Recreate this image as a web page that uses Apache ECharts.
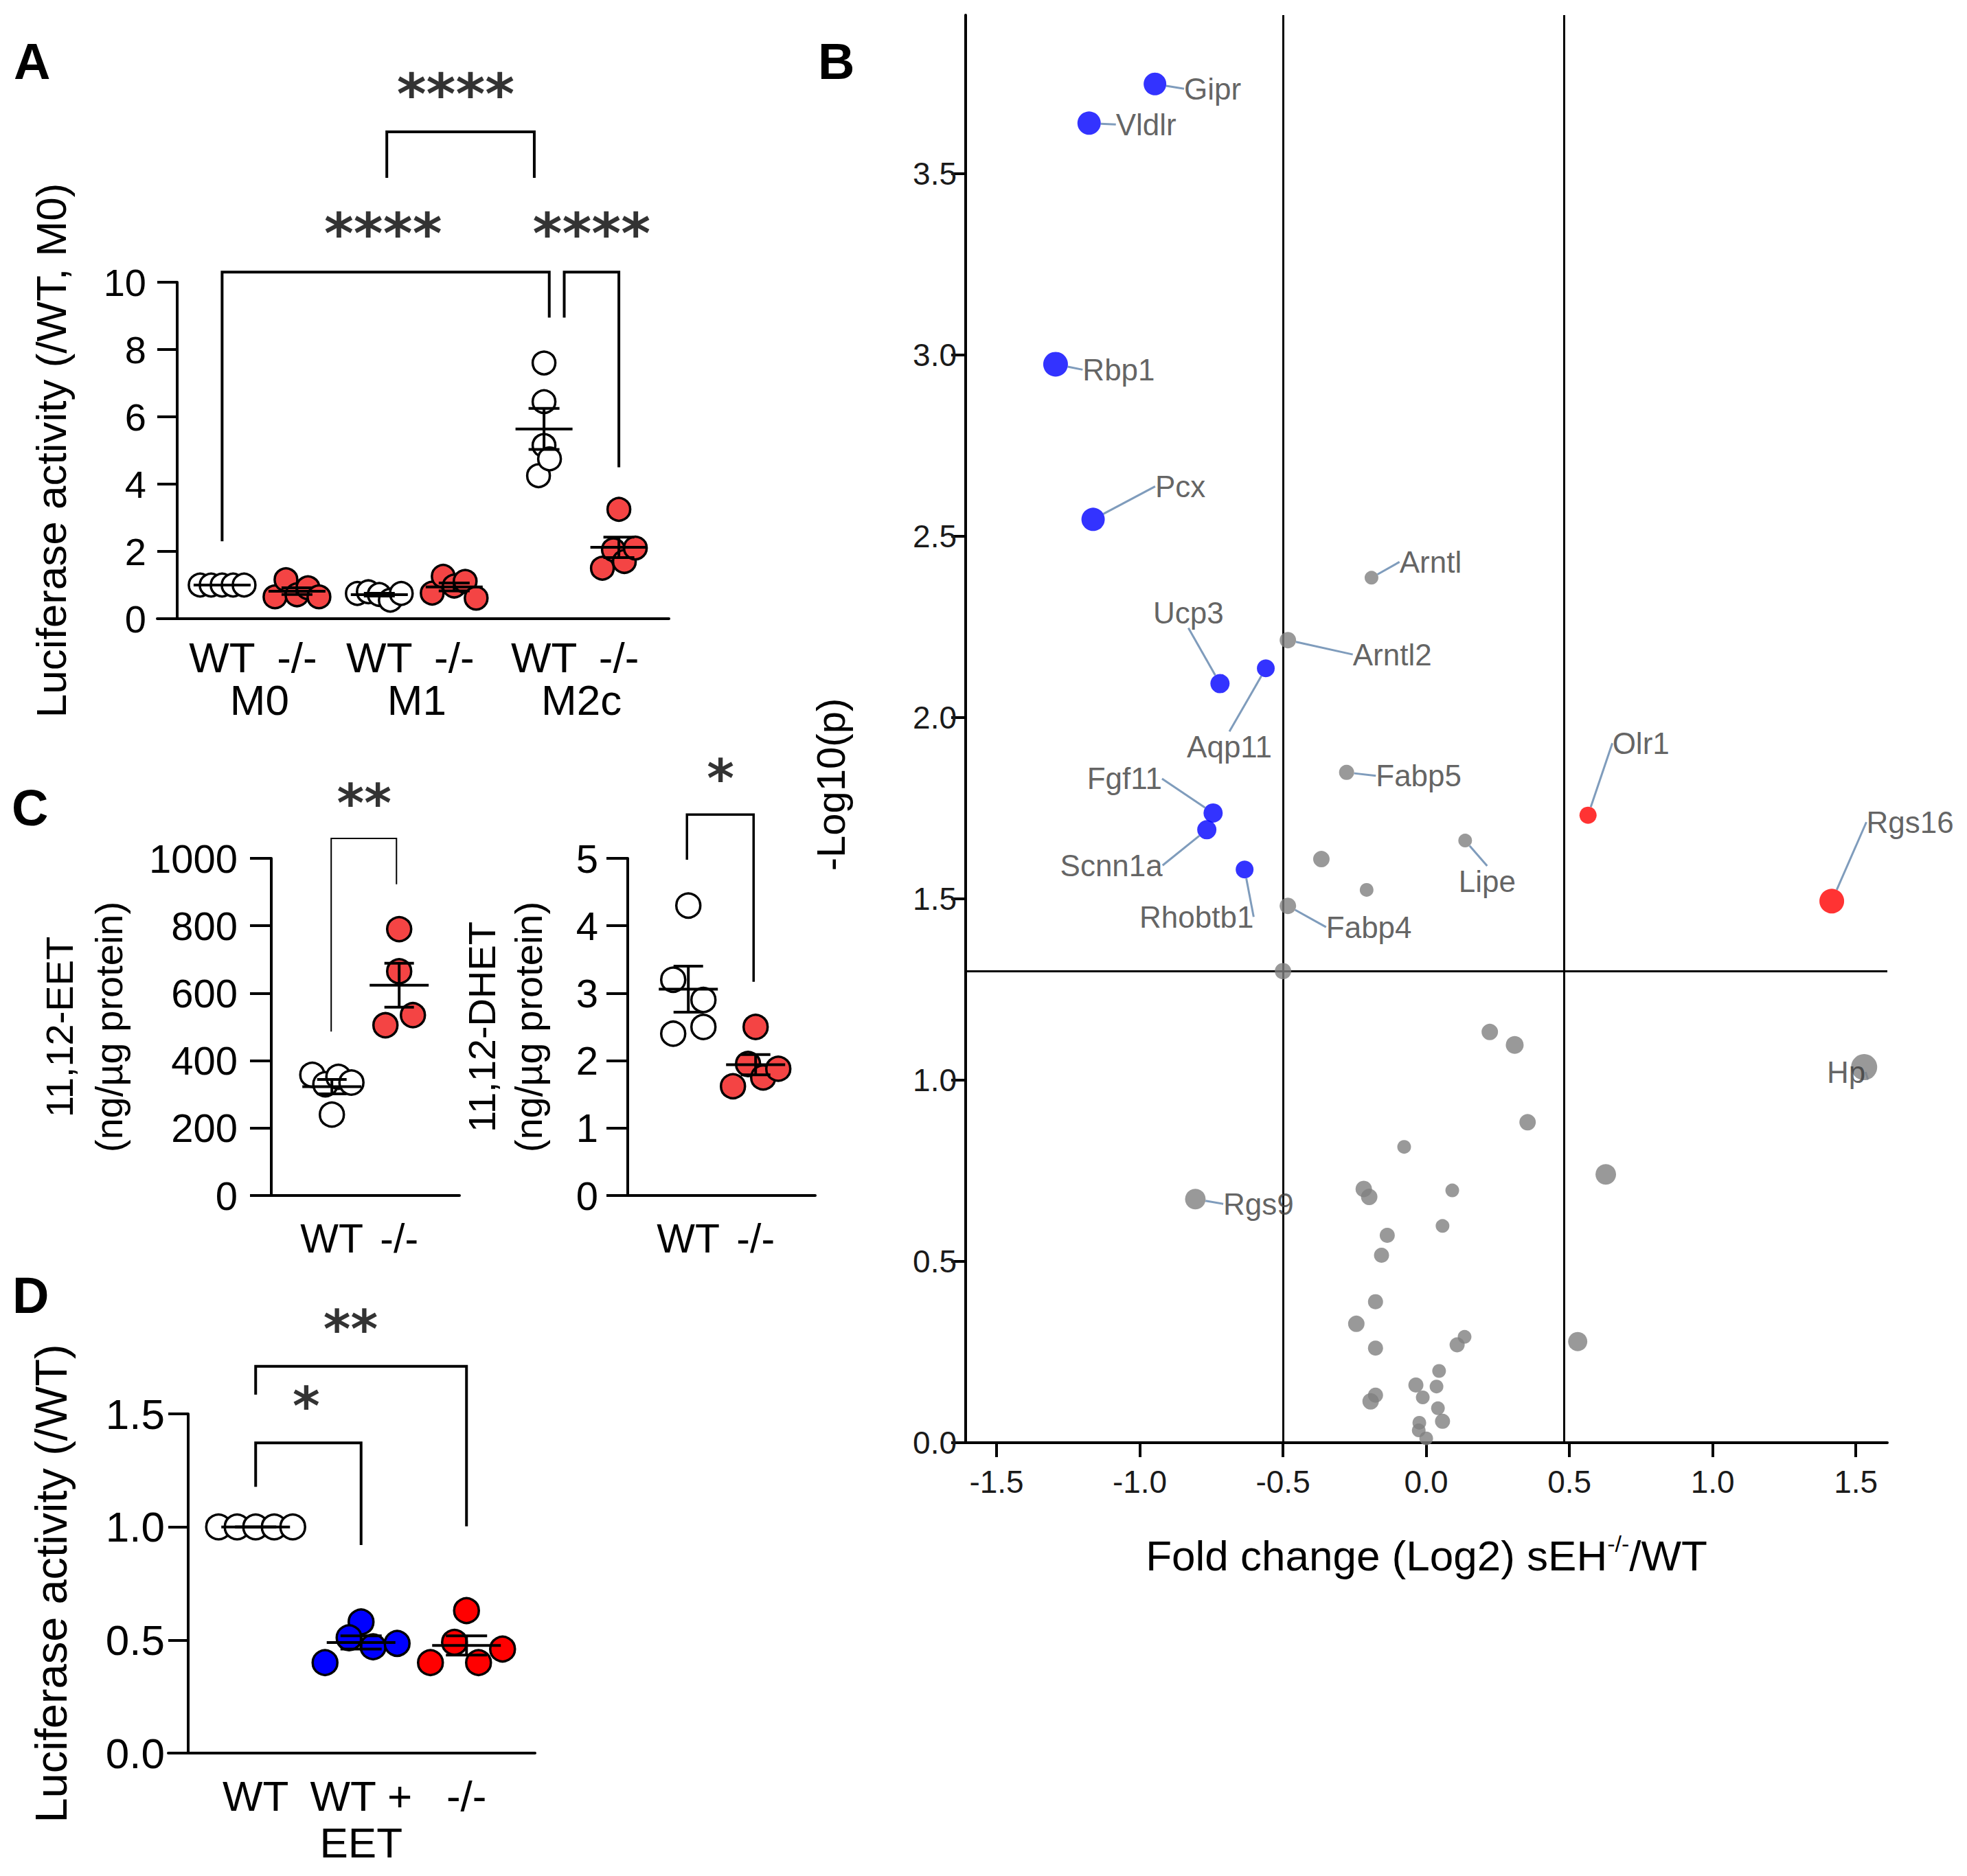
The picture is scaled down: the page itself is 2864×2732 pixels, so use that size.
<!DOCTYPE html>
<html><head><meta charset="utf-8">
<script src="https://cdn.jsdelivr.net/npm/echarts@6/dist/echarts.min.js"></script>
<style>html,body{margin:0;padding:0;background:#fff}#c{width:2864px;height:2732px}</style>
</head><body><div id="c"></div>
<script>
// ================= DATA =================
// ---- Panel A : Luciferase activity (/WT, M0)   (values listed left-to-right as plotted)
const aGroupLabels = ['WT', '-/-', 'WT', '-/-', 'WT', '-/-'];
const aConditionLabels = ['M0', 'M1', 'M2c'];
const aWT_M0  = [1.0, 1.0, 1.0, 1.0, 1.0];
const aKO_M0  = [0.65, 1.16, 0.71, 0.92, 0.65];
const aWT_M1  = [0.75, 0.8, 0.72, 0.55, 0.75];
const aKO_M1  = [0.76, 1.26, 0.97, 1.11, 0.61];
const aWT_M2c = [7.6, 6.45, 5.15, 4.25, 4.75];
const aKO_M2c = [3.25, 1.5, 2.05, 1.7, 2.1];
const aYTicks = [0, 2, 4, 6, 8, 10];

// ---- Panel B : volcano plot
const bGenes = ['Gipr','Vldlr','Rbp1','Pcx','Ucp3','Aqp11','Fgf11','Scnn1a','Rhobtb1','Arntl','Arntl2','Fabp5','Lipe','Fabp4','Olr1','Rgs16','Hp','Rgs9',
  '','','','','','','','','','','','','','','','','','','','','','','','','','','','','','',''];
const bFoldChange = [-0.947,-1.177,-1.294,-1.163,-0.72,-0.56,-0.744,-0.766,-0.634,-0.191,-0.483,-0.278,0.136,-0.483,0.565,1.416,1.529,-0.806,
  -0.366,-0.208,-0.5,0.222,0.309,0.354,0.627,-0.077,-0.218,-0.199,0.091,0.057,-0.136,-0.156,-0.177,-0.244,-0.177,0.134,0.108,0.529,0.045,-0.036,0.036,-0.012,-0.177,-0.194,0.041,-0.024,0.057,-0.026,0.0];
const bNegLog10P = [3.748,3.64,2.975,2.547,2.094,2.136,1.737,1.691,1.581,2.386,2.214,1.849,1.661,1.481,1.731,1.494,1.036,0.672,
  1.61,1.525,1.301,1.133,1.097,0.884,0.74,0.816,0.7,0.678,0.696,0.598,0.572,0.517,0.389,0.328,0.261,0.292,0.27,0.279,0.198,0.159,0.155,0.125,0.131,0.114,0.095,0.055,0.059,0.034,0.012];
const bXTicks = [-1.5, -1.0, -0.5, 0.0, 0.5, 1.0, 1.5];
const bYTicks = [0.0, 0.5, 1.0, 1.5, 2.0, 2.5, 3.0, 3.5];
const bFoldThresholds = [-0.5, 0.485];
const bPThreshold = 1.301;

// ---- Panel C : 11,12-EET and 11,12-DHET
const cGroupLabels = ['WT', '-/-'];
const cEET_WT  = [358, 330, 352, 335, 240];
const cEET_KO  = [790, 665, 505, 535];
const cDHET_WT = [4.3, 3.2, 2.9, 2.4, 2.5];
const cDHET_KO = [2.5, 1.62, 1.95, 1.75, 1.88];

// ---- Panel D : Luciferase activity (/WT)
const dGroupLabels = ['WT', 'WT +\nEET', '-/-'];
const dWT     = [1.0, 1.0, 1.0, 1.0, 1.0];
const dWT_EET = [0.58, 0.40, 0.51, 0.47, 0.485];
const dKO     = [0.63, 0.40, 0.49, 0.40, 0.46];

// ================= STYLE / LAYOUT =================
const FONT = "'Liberation Sans', Arial, Helvetica, sans-serif";
const STAR_FONT = "'DejaVu Sans', 'Liberation Sans', sans-serif";
const RED_A = '#f44444', RED_D = '#ff0000', BLUE_D = '#0000ff';
const bDotSize = [33,34,36,34,28,26,28,28,26,20,24,22,20,24,25,36,38,30,
  24,20,24,24,26,24,30,20,24,24,20,20,22,22,22,24,22,20,22,28,20,22,20,20,22,24,20,20,22,20,20];
const bLabelOffset = {Gipr:[84,7],Vldlr:[83,2],Rbp1:[92,8],Pcx:[127,-48],Ucp3:[-46,-103],Aqp11:[-53,114],
  Fgf11:[-129,-50],Scnn1a:[-139,52],Rhobtb1:[-70,69],Arntl:[86,-23],Arntl2:[152,21],Fabp5:[105,5],
  Lipe:[32,59],Fabp4:[118,31],Olr1:[77,-105],Rgs16:[114,-115],Hp:[-26,7],Rgs9:[92,7]};

// grids: off = distance from x-axis start to the y-axis line, pxX = px per x unit
const G = {
  A:  {left:229, top:411, width:745, height:490, off:29, pxX:109,   yMax:10},
  B:  {left:1406, top:22, width:1342, height:2079},
  C1: {left:366, top:1250, width:303, height:491, off:29, pxX:98,   yMax:1000},
  C2: {left:886, top:1250, width:301, height:491, off:28, pxX:98,   yMax:5},
  D:  {left:245, top:2059, width:534, height:494, off:29, pxX:153.5, yMax:1.5}
};
for (const k of ['A','C1','C2','D']) {
  const g = G[k]; g.xMin = -g.off / g.pxX; g.xMax = g.xMin + g.width / g.pxX; g.pxY = g.height / g.yMax;
}
const aPos = [0.6, 1.6, 2.7, 3.7, 4.9, 5.9];
const aCondPos = [1.1, 3.2, 5.4];
const cPos = [0.9, 1.9];
const dPos = [0.64, 1.64, 2.64];

// ================= HELPERS =================
function stats(a) {
  const n = a.length, m = a.reduce((s, v) => s + v, 0) / n;
  const sd = Math.sqrt(a.reduce((s, v) => s + (v - m) * (v - m), 0) / (n - 1));
  return [m, sd / Math.sqrt(n)];
}
// scatter-dot-plot spreading: values within rowH pixels of a row's lowest value share a row,
// points in a row are spread symmetrically, in the order they are listed
function swarm(vals, pos, g, rowH, dx) {
  const idx = vals.map((v, i) => i).sort((a, b) => vals[a] - vals[b]);
  const out = new Array(vals.length);
  let row = [];
  const flush = () => {
    row.sort((a, b) => a - b);
    row.forEach((i, j) => { out[i] = [pos + (j - (row.length - 1) / 2) * dx / g.pxX, vals[i]]; });
    row = [];
  };
  idx.forEach(i => {
    if (row.length && (vals[i] - Math.min(...row.map(r => vals[r]))) * g.pxY >= rowH) flush();
    row.push(i);
  });
  flush();
  return out;
}
function labelAt(positions, labels) {
  return v => { const i = positions.findIndex(p => Math.abs(p - v) < 1e-6); return i >= 0 ? labels[i] : ''; };
}
function dots(xi, yi, vals, pos, g, size, rowH, dx, fill, bw) {
  return {type:'scatter', xAxisIndex:xi, yAxisIndex:yi, z:5, silent:true, clip:false,
    data: swarm(vals, pos, g, rowH, dx), symbol:'circle', symbolSize:size,
    itemStyle:{color:fill, borderColor:'#000', borderWidth:bw, opacity:1}};
}
function meanSem(xi, yi, groups, positions, meanW, capW, lw) {
  return {type:'custom', xAxisIndex:xi, yAxisIndex:yi, z:7, silent:true,
    data: groups.map((a, i) => { const s = stats(a); return [positions[i], s[0], s[1]]; }),
    encode:{x:0, y:1},
    renderItem: (params, api) => {
      const x = api.value(0), m = api.value(1), s = api.value(2);
      const c = api.coord([x, m]), t = api.coord([x, m + s]), b = api.coord([x, m - s]);
      const st = {stroke:'#000', lineWidth:lw, fill:null};
      const ln = (x1, y1, x2, y2) => ({type:'line', shape:{x1, y1, x2, y2}, style:st});
      return {type:'group', children:[
        ln(c[0] - meanW / 2, c[1], c[0] + meanW / 2, c[1]),
        ln(c[0], t[1], c[0], b[1]),
        ln(c[0] - capW / 2, t[1], c[0] + capW / 2, t[1]),
        ln(c[0] - capW / 2, b[1], c[0] + capW / 2, b[1])
      ]};
    }};
}
// bracket: [x1, x2, yTop, yDropLeft, yDropRight]
function bracket(xi, yi, b, lw) {
  return {type:'line', xAxisIndex:xi, yAxisIndex:yi, z:9, silent:true, clip:false, symbol:'none',
    data:[[b[0], b[3]], [b[0], b[2]], [b[1], b[2]], [b[1], b[4]]],
    lineStyle:{color:'#000', width:lw, cap:'butt', join:'miter'}};
}
function stars(xi, yi, items, fs) {
  return {type:'scatter', xAxisIndex:xi, yAxisIndex:yi, z:10, silent:true, clip:false, symbolSize:1,
    itemStyle:{color:'rgba(0,0,0,0)'},
    data: items.map(it => ({name:it[2], value:[it[0], it[1]]})),
    label:{show:true, position:'inside', formatter:'{b}', fontSize:fs, fontWeight:'bold', color:'#000',
      fontFamily:STAR_FONT, textBorderWidth:0, offset:[0, Math.round(fs * 0.1)]}};
}
function valAxisY(gi, g, interval, fmt, fs, margin, tickLen, name, nameGap, nameFs, extraName) {
  return {gridIndex:gi, type:'value', min:0, max:g.yMax, interval:interval,
    axisLine:{show:true, onZero:true, lineStyle:{color:'#000', width:4}},
    axisTick:{show:true, length:tickLen, lineStyle:{color:'#000', width:4}},
    axisLabel:{fontSize:fs, color:'#000', margin:margin, formatter:fmt},
    splitLine:{show:false},
    name:name, nameLocation:'middle', nameGap:nameGap,
    nameTextStyle:Object.assign({fontSize:nameFs, color:'#000'}, extraName || {})};
}
function valAxisX(gi, g, customPos, labels, fs, margin, showLine, lh) {
  return {gridIndex:gi, type:'value', position:'bottom', min:g.xMin, max:g.xMax,
    axisLine:{show:showLine, onZero:true, lineStyle:{color:'#000', width:4}},
    axisTick:{show:false}, splitLine:{show:false},
    axisLabel:{customValues:customPos, formatter:labelAt(customPos, labels), fontSize:fs, color:'#000',
      margin:margin, lineHeight:lh || Math.round(fs * 1.12), showMinLabel:true, showMaxLabel:true}};
}

// ================= OPTION =================
const bColors = bFoldChange.map((x, i) => bNegLog10P[i] > bPThreshold ? (x < bFoldThresholds[0] ? '#0000ff' : (x > bFoldThresholds[1] ? '#ff0000' : '#808080')) : '#808080');
const letter = (t, left, top) => ({text:t, left:left, top:top, padding:0,
  textStyle:{fontSize:74, fontWeight:'bold', color:'#000', fontFamily:FONT}});

const option = {
  animation:false,
  backgroundColor:'#ffffff',
  textStyle:{fontFamily:FONT},
  title:[letter('A', 20, 52), letter('B', 1191, 52), letter('C', 17, 1139), letter('D', 18, 1849)],
  grid:[
    {left:G.A.left, top:G.A.top, width:G.A.width, height:G.A.height},
    {left:G.B.left, top:G.B.top, width:G.B.width, height:G.B.height},
    {left:G.C1.left, top:G.C1.top, width:G.C1.width, height:G.C1.height},
    {left:G.C2.left, top:G.C2.top, width:G.C2.width, height:G.C2.height},
    {left:G.D.left, top:G.D.top, width:G.D.width, height:G.D.height}
  ],
  xAxis:[
    valAxisX(0, G.A, aPos, aGroupLabels, 62, 22, true),
    valAxisX(0, G.A, aCondPos, aConditionLabels, 62, 84, false),
    {gridIndex:1, type:'value', position:'bottom', min:-1.608, max:1.61,
      axisLine:{show:true, onZero:false, lineStyle:{color:'#000', width:4}},
      axisTick:{show:true, length:21, customValues:bXTicks, lineStyle:{color:'#000', width:4}},
      axisLabel:{customValues:bXTicks, formatter:v => v.toFixed(1), fontSize:46, color:'#1a1a1a', margin:34},
      splitLine:{show:false},
      name:'Fold change (Log2) sEH{sup|-/-}/WT', nameLocation:'middle', nameGap:130,
      nameTextStyle:{fontSize:62, color:'#000', lineHeight:68,
        rich:{sup:{fontSize:34, color:'#000', fontFamily:FONT, verticalAlign:'top', lineHeight:68}}}},
    valAxisX(2, G.C1, cPos, cGroupLabels, 59, 30, true),
    valAxisX(3, G.C2, cPos, cGroupLabels, 59, 30, true),
    valAxisX(4, G.D, dPos, dGroupLabels, 62, 28, true, 68)
  ],
  yAxis:[
    valAxisY(0, G.A, 2, v => String(v), 56, 16, 29, 'Luciferase activity (/WT, M0)', 124, 62),
    {gridIndex:1, type:'value', min:0, max:3.938,
      axisLine:{show:true, onZero:false, lineStyle:{color:'#000', width:4}},
      axisTick:{show:true, length:21, customValues:bYTicks, lineStyle:{color:'#000', width:4}},
      axisLabel:{customValues:bYTicks, formatter:v => v.toFixed(1), fontSize:46, color:'#1a1a1a', margin:13},
      splitLine:{show:false},
      name:'-Log10(p)', nameLocation:'middle', nameGap:168,
      nameTextStyle:{fontSize:58, color:'#000', padding:[0, 162, 0, 0]}},
    valAxisY(2, G.C1, 200, v => String(v), 58, 20, 31, '11,12-EET\n(ng/µg protein)', 172, 56, {lineHeight:72}),
    valAxisY(3, G.C2, 1, v => String(v), 58, 15, 31, '11,12-DHET\n(ng/µg protein)', 83, 56, {lineHeight:68}),
    valAxisY(4, G.D, 0.5, v => v.toFixed(1), 62, 5, 29, 'Luciferase activity (/WT)', 138, 65)
  ],
  series:[]
};

const S = option.series;
// ---- Panel A
const aSets = [aWT_M0, aKO_M0, aWT_M1, aKO_M1, aWT_M2c, aKO_M2c];
aSets.forEach((vals, i) => S.push(dots(0, 0, vals, aPos[i], G.A, 33, 33, 16, i % 2 ? RED_A : '#ffffff', 3.5)));
S.push(meanSem(0, 0, aSets, aPos, 83, 45, 4));
S.push(bracket(0, 0, [aPos[0], aPos[4] + 0.07, 10.3, 2.3, 8.95], 4));
S.push(bracket(0, 0, [aPos[4] + 0.27, aPos[5], 10.3, 8.95, 4.5], 4));
S.push(bracket(0, 0, [aPos[2] + 0.1, aPos[4] - 0.13, 14.47, 13.1, 13.1], 4));
S.push(stars(0, 0, [[(aPos[0] + aPos[4]) / 2, 11.6, '****'], [(aPos[4] + 0.27 + aPos[5]) / 2, 11.6, '****'],
  [(aPos[2] + aPos[4]) / 2 - 0.08, 15.75, '****']], 82));

// ---- Panel B
S.push({type:'scatter', xAxisIndex:2, yAxisIndex:1, z:2, silent:true, data:[],
  markLine:{silent:true, symbol:['none', 'none'], label:{show:false}, animation:false,
    lineStyle:{color:'#000', width:3, type:'solid'},
    data:[{xAxis:bFoldThresholds[0]}, {xAxis:bFoldThresholds[1]}, {yAxis:bPThreshold}]}});
S.push({type:'scatter', xAxisIndex:2, yAxisIndex:1, z:5, silent:true,
  data: bGenes.map((g, i) => ({name:g, value:[bFoldChange[i], bNegLog10P[i]], symbolSize:bDotSize[i],
    itemStyle:{color:bColors[i]}, label:{show:g !== ''}})),
  symbol:'circle',
  label:{show:true, position:'inside', formatter:'{b}', fontSize:44, color:'#3a3a3a', textBorderWidth:0, fontFamily:FONT},
  labelLine:{show:true, smooth:false, lineStyle:{color:'#7f9cbc', width:3}},
  labelLayout: p => { const o = bLabelOffset[bGenes[p.dataIndex]]; return o ? {dx:o[0], dy:o[1]} : {}; }});

// ---- Panel C
S.push(dots(3, 2, cEET_WT, cPos[0], G.C1, 35, 35, 19, '#ffffff', 3.5));
S.push(dots(3, 2, cEET_KO, cPos[1], G.C1, 35, 35, 40, RED_A, 3.5));
S.push(meanSem(3, 2, [cEET_WT, cEET_KO], cPos, 86, 43, 4));
S.push(bracket(3, 2, [cPos[0] - 0.01, cPos[1] - 0.04, 1059, 486, 923], 2));
S.push(stars(3, 2, [[(cPos[0] + cPos[1]) / 2 - 0.02, 1180, '**']], 76));
S.push(dots(4, 3, cDHET_WT, cPos[0], G.C2, 35, 35, 44, '#ffffff', 3.5));
S.push(dots(4, 3, cDHET_KO, cPos[1], G.C2, 35, 35, 22, RED_A, 3.5));
S.push(meanSem(4, 3, [cDHET_WT, cDHET_KO], cPos, 86, 43, 4));
S.push(bracket(4, 3, [cPos[0] - 0.02, cPos[1] - 0.03, 5.65, 4.98, 3.17], 3.5));
S.push(stars(4, 3, [[(cPos[0] + cPos[1]) / 2 - 0.02, 6.27, '*']], 76));

// ---- Panel D
S.push(dots(5, 4, dWT, dPos[0], G.D, 36, 40, 27, '#ffffff', 3.5));
S.push(dots(5, 4, dWT_EET, dPos[1], G.D, 36, 40, 35, BLUE_D, 3.5));
S.push(dots(5, 4, dKO, dPos[2], G.D, 36, 40, 35, RED_D, 3.5));
S.push(meanSem(5, 4, [dWT, dWT_EET, dKO], dPos, 100, 60, 4));
S.push(bracket(5, 4, [dPos[0], dPos[1], 1.372, 1.177, 0.92], 4));
S.push(bracket(5, 4, [dPos[0], dPos[2], 1.71, 1.585, 1.003], 4));
S.push(stars(5, 4, [[(dPos[0] + dPos[1]) / 2 - 0.02, 1.56, '*'], [(dPos[0] + dPos[2]) / 2 - 0.1, 1.9, '**']], 76));

const chart = echarts.init(document.getElementById('c'), null, {renderer:'svg', width:2864, height:2732});
chart.setOption(option);
</script>
</body></html>
